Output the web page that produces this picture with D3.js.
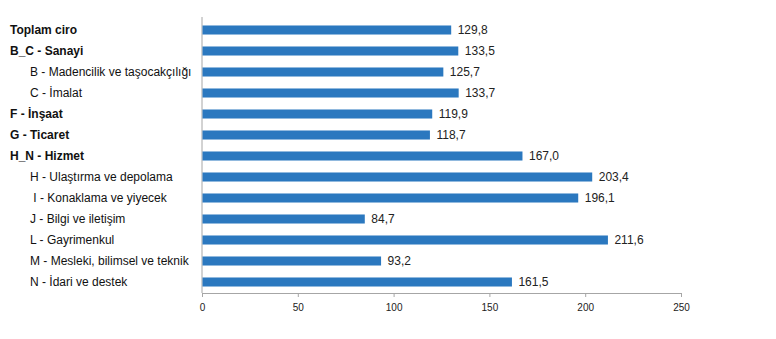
<!DOCTYPE html>
<html><head><meta charset="utf-8">
<script src="https://cdn.jsdelivr.net/npm/d3@7"></script>
<style>body{margin:0;background:#fff}svg{display:block}</style>
</head><body>
<script>
const categories = ["Toplam ciro","B_C - Sanayi","B - Madencilik ve taşocakçılığı","C - İmalat","F - İnşaat","G - Ticaret","H_N - Hizmet","H - Ulaştırma ve depolama"," I - Konaklama ve yiyecek","J - Bilgi ve iletişim","L - Gayrimenkul","M - Mesleki, bilimsel ve teknik","N - İdari ve destek"];
const values = [129.8,133.5,125.7,133.7,119.9,118.7,167.0,203.4,196.1,84.7,211.6,93.2,161.5];
const bold = [true,true,false,false,true,true,true,false,false,false,false,false,false];
const ticks = [0,50,100,150,200,250];

const W=776,H=339;
const svg=d3.select("body").append("svg").attr("width",W).attr("height",H);
const x=d3.scaleLinear().domain([0,250]).range([202,681]);
const y=d3.scaleBand().domain(categories).range([19.5,292.5]).paddingInner(0.57).paddingOuter(0.285);
const fmt=v=>d3.format(".1f")(v).replace(".",",");

svg.append("g").attr("transform","translate(0,293)")
  .call(d3.axisBottom(x).tickValues(ticks).tickSize(4).tickFormat(d=>d))
  .call(g=>{g.select(".domain").attr("stroke","#a6a6a6");g.selectAll(".tick line").attr("stroke","#a6a6a6");
    g.selectAll("text").attr("font-family","Liberation Sans, Arial, sans-serif").attr("font-size","10px").attr("fill","#222").attr("dy","1.05em");});

svg.append("line").attr("x1",x(0)).attr("x2",x(0)).attr("y1",17).attr("y2",293).attr("stroke","#a6a6a6");

svg.selectAll("rect.bar").data(values).join("rect").attr("class","bar")
  .attr("x",x(0)+0.5).attr("y",(d,i)=>y(categories[i])).attr("height",y.bandwidth())
  .attr("width",d=>x(d)-x(0)).attr("fill","#2b78bf");

svg.selectAll("text.val").data(values).join("text").attr("class","val")
  .attr("x",d=>x(d)+7).attr("y",(d,i)=>y(categories[i])+y.bandwidth()/2).attr("dy","0.35em")
  .attr("font-family","Liberation Sans, Arial, sans-serif").attr("font-size","12px").attr("fill","#222")
  .text(fmt);

svg.selectAll("text.cat").data(categories).join("text").attr("class","cat")
  .attr("x",(d,i)=>bold[i]?10:30).attr("y",d=>y(d)+y.bandwidth()/2).attr("dy","0.35em")
  .attr("font-family","Liberation Sans, Arial, sans-serif").attr("font-size","12px")
  .attr("font-weight",(d,i)=>bold[i]?"bold":"normal").attr("fill","#111")
  .attr("xml:space","preserve").style("white-space","pre")
  .text(d=>d);
</script>
</body></html>
